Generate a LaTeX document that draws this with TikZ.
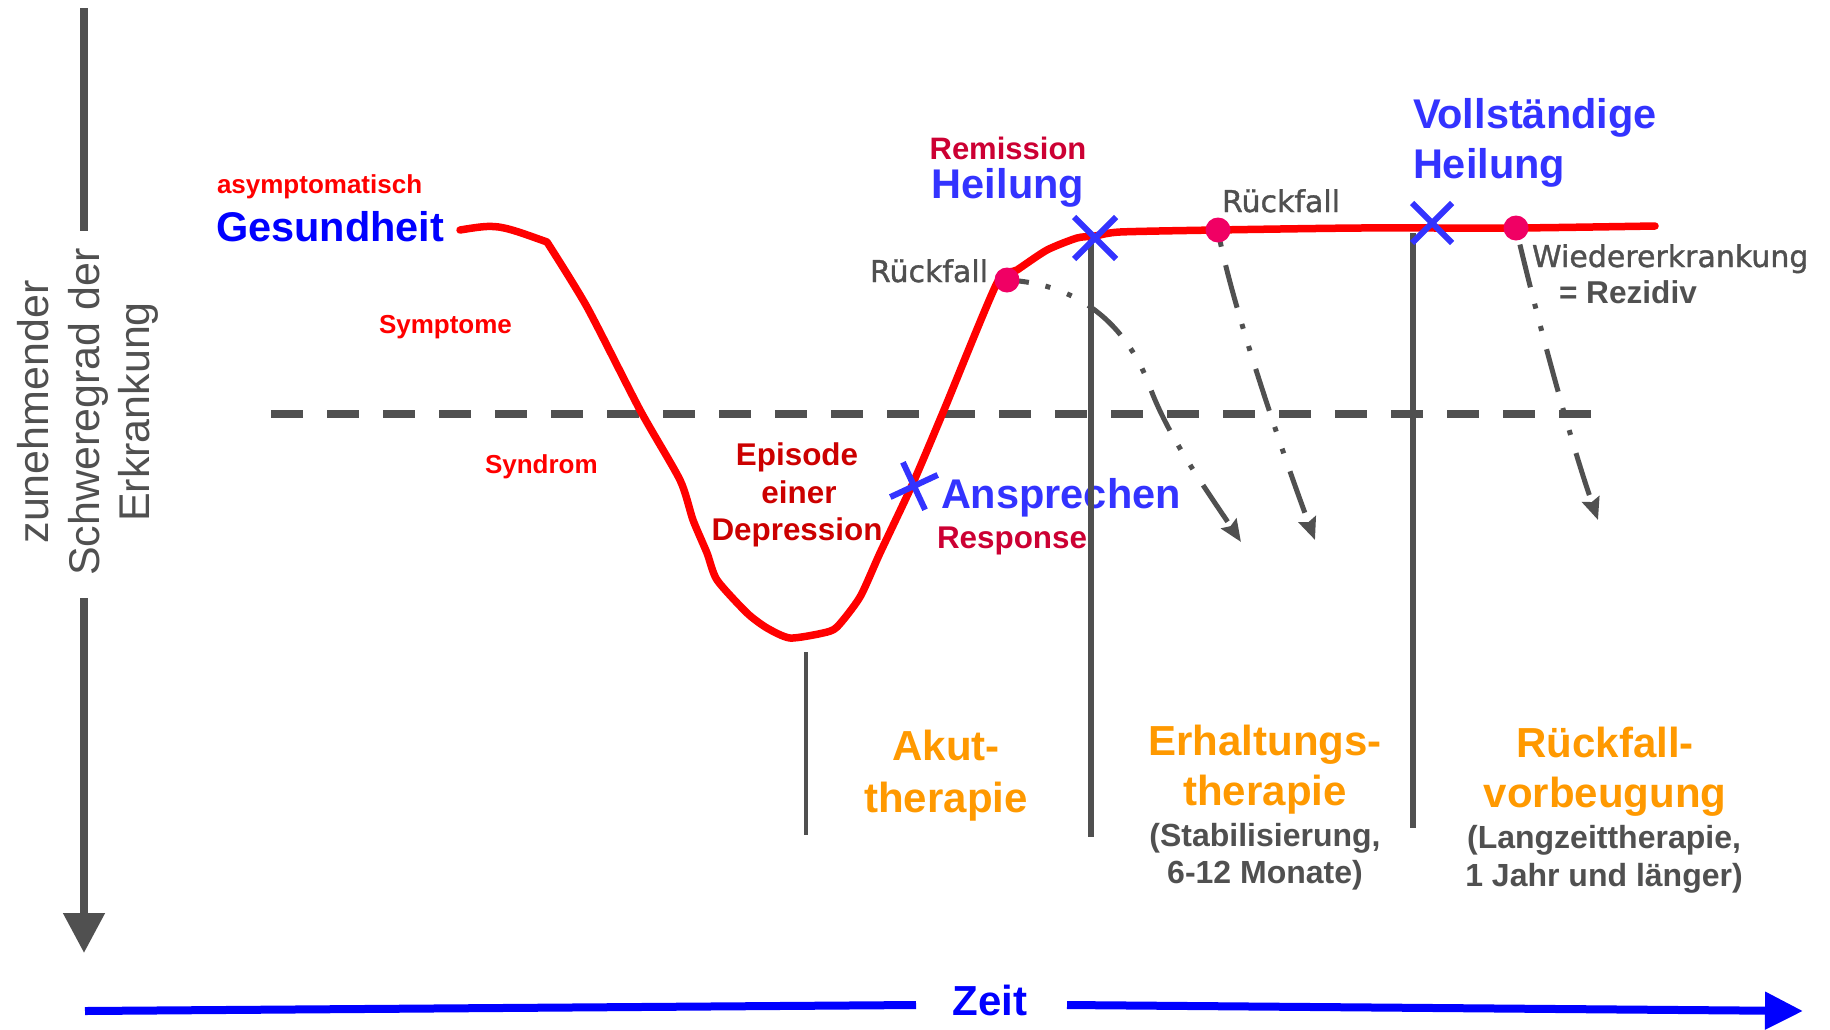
\documentclass[tikz,border=0pt]{standalone}
\usepackage{fontspec}
\setmainfont{Liberation Sans}
\newfontfamily\dvsans[FakeBold=1.2]{DejaVu Sans}
\usetikzlibrary{arrows.meta,shapes.misc}
\newcommand\fsz[1]{\fontsize{#1}{#1}\selectfont}

\definecolor{axgray}{RGB}{80,80,80}
\definecolor{cred}{RGB}{255,0,0}
\definecolor{dotpink}{RGB}{240,0,100}
\definecolor{pblue}{RGB}{0,0,255}
\definecolor{lblue}{RGB}{51,51,255}
\definecolor{dred}{RGB}{204,0,0}
\definecolor{crim}{RGB}{204,0,51}
\definecolor{orng}{RGB}{255,153,0}

\begin{document}
\begin{tikzpicture}[x=0.5pt,y=-0.5pt,
  lbl/.style={inner sep=0pt, outer sep=0pt},
  bigblue/.style={lbl, text=lblue, font=\bfseries\fsz{20.75}},
  smallred/.style={lbl, text=cred, font=\bfseries\fsz{13}},
  midred/.style={lbl, text=crim, font=\bfseries\fsz{15.7}},
  episode/.style={lbl, text=dred, font=\bfseries\fsz{15.7}, anchor=base},
  grayslab/.style={lbl, text=axgray, font=\dvsans\fsz{15}},
  phase/.style={lbl, text=orng, font=\bfseries\fsz{21}, anchor=base},
  phasenote/.style={lbl, text=axgray, font=\bfseries\fsz{16}, anchor=base},
  axislabel/.style={lbl, text=axgray, font=\fsz{21.5}, rotate=90, anchor=base},
  axisline/.style={draw=axgray, line width=4pt},
  timeline/.style={draw=pblue, line width=4pt},
  threshold/.style={draw=axgray, line width=4pt, dash pattern=on 16pt off 12pt},
  divider/.style={draw=axgray, line width=3pt},
  course/.style={draw=cred, line width=3.75pt, line join=round, line cap=round},
  relapse/.style={draw=axgray, line width=2.5pt,
    dash pattern=on 22pt off 8.5pt on 2.5pt off 9pt on 2.5pt off 9.5pt,
    -{Stealth[length=11pt,width=9pt,inset=1.5pt]}},
  xmark/.style={draw=lblue, line width=3pt, cross out, inner sep=0pt, outer sep=0pt, minimum size=21pt},
  event/.style={circle, fill=dotpink, inner sep=0pt, minimum size=12.5pt}
]
\useasboundingbox (0,0) rectangle (1830,1029);

% severity axis with its rotated label
\draw[axisline] (84,8) -- (84,231);
\draw[axisline, -{Triangle[length=20pt,width=20pt]}] (84,598) -- (84,953);
\node[axislabel] (ax1) at (48,412) {zunehmender};
\node[axislabel] (ax2) at (99,412) {Schweregrad der};
\node[axislabel] (ax3) at (149,412) {Erkrankung};

% time axis
\node[lbl, text=pblue, font=\bfseries\fsz{21}, anchor=base] (zeit) at (990,1015) {Zeit};
\draw[timeline] (85,1011) -- (916,1005);
\draw[timeline, -{Triangle[length=19pt,width=18pt]}] (1067,1005) -- (1803,1011);

% labels of states
\node[smallred, anchor=base west] (asym) at (217,193) {asymptomatisch};
\node[lbl, text=pblue, font=\bfseries\fsz{20.75}, anchor=base west] (ges) at (216,241) {Gesundheit};
\node[smallred, anchor=base west] (sympt) at (379,333) {Symptome};
\node[smallred, anchor=base west] (synd) at (485,473) {Syndrom};
\node[midred, font=\bfseries\fsz{15.5}, anchor=base] (remi) at (1008,159) {Remission};
\node[bigblue, anchor=base] (heil) at (1008,198) {Heilung};
\node[episode] (ep1) at (797,465) {Episode};
\node[episode] (ep2) at (799,503) {einer};
\node[episode] (ep3) at (797,540) {Depression};
\node[bigblue, anchor=base west] (ansp) at (941,508) {Ansprechen};
\node[midred, anchor=base west] (resp) at (937,548) {Response};
\node[bigblue, anchor=base west] (voll1) at (1413,128) {Vollständige};
\node[bigblue, anchor=base west] (voll2) at (1413,178) {Heilung};
\node[grayslab, anchor=base east] (rf1) at (988,282) {Rückfall};
\node[grayslab, anchor=base west] (rf2) at (1222,212) {Rückfall};
\node[grayslab, anchor=base west] (wied) at (1532,267) {Wiedererkrankung};
\node[lbl, text=axgray, font=\bfseries\fsz{15.8}, anchor=base west] (rez) at (1559,303) {= Rezidiv};

% therapy phases
\node[phase] (ak1) at (946,760) {Akut-};
\node[phase] (ak2) at (946,812) {therapie};
\node[phase] (er1) at (1265,755) {Erhaltungs-};
\node[phase] (er2) at (1265,805) {therapie};
\node[phasenote] (er3) at (1265,846) {(Stabilisierung,};
\node[phasenote] (er4) at (1265,883) {6-12 Monate)};
\node[phase] (rv1) at (1605,757) {Rückfall-};
\node[phase] (rv2) at (1605,807) {vorbeugung};
\node[phasenote] (rv3) at (1604,848) {(Langzeittherapie,};
\node[phasenote] (rv4) at (1604,886) {1 Jahr und länger)};

% syndrome threshold
\draw[threshold] (271,414) -- (1591,414);

% phase dividers
\draw[divider, line width=2pt] (806,652) -- (806,835);
\draw[divider] (1091,240) -- (1091,837);
\draw[divider] (1413,233) -- (1413,828);

% points on the course
\coordinate (r1) at (1007,280);
\coordinate (r2) at (1218,230);
\coordinate (r3) at (1516,228);
\coordinate (t1) at (1241,542);
\coordinate (t2) at (1315,540);
\coordinate (t3) at (1598,520);

% relapse / recurrence arrows
\draw[relapse, dash phase=11pt] (r1) .. controls (1100,285) and (1137,350) .. (1151,390)
  .. controls (1170,440) and (1210,495) .. (t1);
\draw[relapse, dash phase=36pt] (r2) .. controls (1230,300) and (1285,460) .. (t2);
\draw[relapse, dash phase=45.5pt] (r3) .. controls (1535,310) and (1570,440) .. (t3);

% course of the illness
\draw[course] (460,230) .. controls (497,224) .. (547,242)
  -- plot[smooth, tension=0.4] coordinates {(547,242) (587,307) (640,410)
  (680,480) (693,520) (707,553) (717,580) (747,613) (767,628) (790,638) (823,633)
  (837,627) (860,597) (880,553) (913,483) (944,410) (997,283) (1017,270) (1047,250)
  (1077,238) (1095,236) (1120,232) (1216,230) (1360,228) (1516,228) (1655,226)};

% milestones
\node[xmark, rotate=-20, minimum size=18.5pt] (xansp) at (914,486) {};
\node[xmark] (xheil) at (1095,238) {};
\node[xmark, minimum size=20pt] (xvoll) at (1432,223) {};
\node[event] (e1) at (r1) {};
\node[event] (e2) at (r2) {};
\node[event] (e3) at (r3) {};
\end{tikzpicture}
\end{document}
